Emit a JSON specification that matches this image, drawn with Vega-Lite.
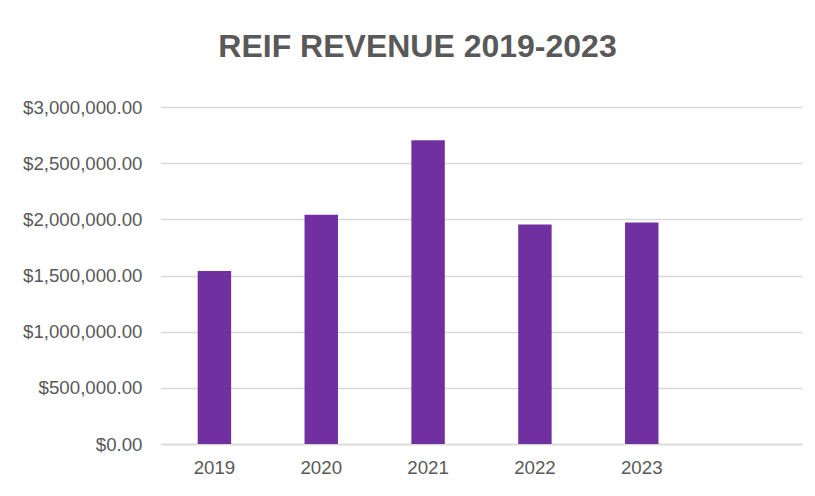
{
  "$schema": "https://vega.github.io/schema/vega-lite/v6.json",
  "width": 641,
  "height": 337,
  "autosize": {"type": "none"},
  "padding": {"left": 161, "top": 107, "right": 13, "bottom": 52},
  "background": "white",
  "title": {
    "text": "REIF REVENUE 2019-2023",
    "font": "Liberation Sans",
    "fontSize": 32,
    "fontWeight": "bold",
    "color": "#595959",
    "anchor": "middle",
    "dx": -64,
    "offset": 34
  },
  "data": {
    "values": [
      {"year": "2019", "revenue": 1539000},
      {"year": "2020", "revenue": 2040000},
      {"year": "2021", "revenue": 2705000},
      {"year": "2022", "revenue": 1954000},
      {"year": "2023", "revenue": 1972000}
    ]
  },
  "mark": {"type": "bar", "color": "#7030A0"},
  "encoding": {
    "x": {
      "field": "year",
      "type": "nominal",
      "scale": {"domain": ["2019", "2020", "2021", "2022", "2023", ""], "paddingInner": 0.687, "paddingOuter": 0.3435},
      "axis": {
        "title": null,
        "labelAngle": 0,
        "labelFont": "Liberation Sans",
        "labelFontSize": 18.7,
        "labelColor": "#595959",
        "labelPadding": 14,
        "ticks": false,
        "domain": true,
        "domainColor": "#d9d9d9",
        "domainWidth": 1.3,
        "grid": false
      }
    },
    "y": {
      "field": "revenue",
      "type": "quantitative",
      "scale": {"domain": [0, 3000000], "nice": false},
      "axis": {
        "title": null,
        "values": [0, 500000, 1000000, 1500000, 2000000, 2500000, 3000000],
        "format": "$,.2f",
        "labelFont": "Liberation Sans",
        "labelFontSize": 18.7,
        "labelColor": "#595959",
        "labelPadding": 19,
        "ticks": false,
        "domain": false,
        "grid": true,
        "gridColor": "#d9d9d9",
        "gridWidth": 1.3
      }
    }
  },
  "config": {
    "view": {"stroke": null}
  }
}
